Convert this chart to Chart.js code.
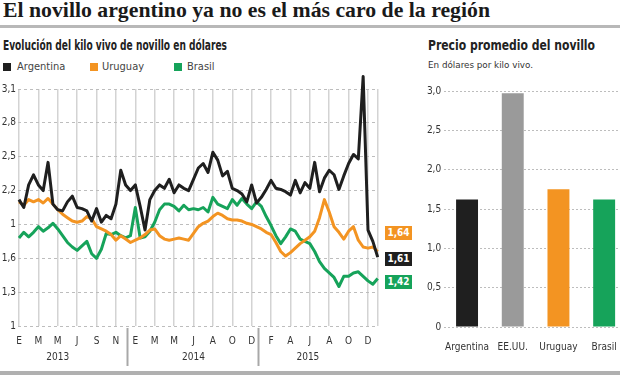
<!DOCTYPE html>
<html>
<head>
<meta charset="utf-8">
<script src="https://cdn.jsdelivr.net/npm/chart.js@4.4.0/dist/chart.umd.min.js"></script>
<style>
html,body{margin:0;padding:0;width:620px;height:375px;overflow:hidden;background:#fff;}
body{position:relative;font-family:"DejaVu Sans Condensed","Liberation Sans Narrow",Roboto,sans-serif;color:#222;}
.abs{position:absolute;white-space:nowrap;transform-origin:0 0;}
#title{left:3px;top:-1px;font:bold 22px/22px "Liberation Serif",serif;color:#1a1a1a;}
#rule{left:0;top:25px;width:620px;height:3px;background:#b8b8b8;}
#rule2{left:0;top:371px;width:620px;height:4px;background:#b0b0b0;}
#sub1{left:3px;top:37px;font-size:14px;line-height:16px;font-weight:bold;color:#222;}
#sub2{left:428px;top:37px;font-size:14px;line-height:16px;font-weight:bold;color:#222;}
#sub2b{left:428px;top:60px;font-size:9px;line-height:10px;color:#333;}
.lg{top:61px;font-size:11px;line-height:12px;color:#444;}
.sq{width:8px;height:8px;top:63px;}
.tag{width:27px;height:14px;font-size:10px;line-height:14px;font-weight:bold;color:#fff;text-align:center;left:385px;}
#cL{position:absolute;left:0;top:0;}
#cR{position:absolute;left:400px;top:0;}
</style>
</head>
<body>
<div class="abs" id="title">El novillo argentino ya no es el más caro de la región</div>
<div class="abs" id="rule"></div>
<div class="abs" id="sub1">Evolución del kilo vivo de novillo en dólares</div>
<div class="abs" id="sub2">Precio promedio del novillo</div>
<div class="abs" id="sub2b">En dólares por kilo vivo.</div>
<div id="legend"></div>
<div id="tags"></div>
<canvas id="cL" width="400" height="375"></canvas>
<canvas id="cR" width="240" height="375"></canvas>
<div class="abs" id="rule2"></div>
<script>
// ---------- data: line chart (one value every quarter of a label interval) ----------
const seriesNames = ['Argentina', 'Uruguay', 'Brasil'];
const seriesColors = ['#1f1f1f', '#f39422', '#16a35a'];
const monthLabels = ['E','M','M','J','S','N','E','M','M','J','A','O','D','F','A','J','A','O','D'];
const yearLabels = ['2013', '2014', '2015'];
const yTickValues = [1, 1.3, 1.6, 1.9, 2.2, 2.5, 2.8, 3.1];
const yTickLabels = ['1', '1,3', '1,6', '1', '2,2', '2,5', '2,8', '3,1'];
const lastValueLabels = ['1,64', '1,61', '1,42'];
const lastValueSeries = [1, 0, 2]; // Uruguay, Argentina, Brasil (top to bottom)

const argentina = [2.12,2.05,2.25,2.34,2.25,2.20,2.45,2.08,2.03,2.02,2.10,2.15,2.05,2.04,2.02,1.93,2.04,1.92,1.98,
  1.95,2.08,2.38,2.25,2.20,2.25,2.06,1.85,2.12,2.20,2.25,2.22,2.30,2.18,2.25,2.22,2.20,2.30,2.40,2.44,2.36,2.54,2.47,
  2.33,2.37,2.22,2.20,2.17,2.10,2.25,2.09,2.14,2.21,2.29,2.22,2.21,2.19,2.16,2.29,2.18,2.27,2.22,2.45,2.19,2.31,2.38,2.34,2.21,2.33,2.44,2.52,2.48,3.21,1.85,1.75,1.61];
const uruguay = [2.10,2.07,2.12,2.10,2.12,2.09,2.13,2.08,2.03,1.99,1.96,1.93,1.92,1.93,1.97,1.95,1.88,1.86,1.84,
  1.81,1.76,1.80,1.77,1.74,1.76,1.78,1.81,1.85,1.86,1.80,1.77,1.76,1.77,1.78,1.77,1.76,1.82,1.88,1.91,1.93,1.97,2.00,
  1.98,1.95,1.94,1.94,1.93,1.91,1.90,1.88,1.86,1.83,1.81,1.74,1.66,1.62,1.65,1.69,1.73,1.76,1.79,1.84,1.96,2.12,2.01,1.88,1.83,1.77,1.84,1.88,1.76,1.70,1.69,1.70,1.66];
const brasil = [1.78,1.83,1.79,1.83,1.88,1.84,1.87,1.91,1.86,1.80,1.74,1.70,1.67,1.71,1.75,1.64,1.60,1.68,1.82,
  1.81,1.83,1.80,1.78,1.80,2.05,1.78,1.79,1.84,1.92,2.03,2.08,2.08,2.06,2.02,2.07,2.03,2.04,2.03,2.05,2.01,2.14,2.08,
  2.06,2.04,2.12,2.07,2.13,2.08,2.04,2.10,2.06,1.97,1.89,1.80,1.73,1.79,1.86,1.84,1.77,1.75,1.73,1.66,1.57,1.51,1.47,1.43,1.35,1.44,1.44,1.47,1.48,1.44,1.40,1.37,1.42];

// ---------- data: bar chart ----------
const barCategories = ['Argentina', 'EE.UU.', 'Uruguay', 'Brasil'];
const barValues = [1.62, 2.97, 1.75, 1.62];
const barColors = ['#1f1f1f', '#9a9a9a', '#f39422', '#16a35a'];
const barTickValues = [0, 0.5, 1, 1.5, 2, 2.5, 3];
const barTickLabels = ['0', '0,5', '1,0', '1,5', '2,0', '2,5', '3,0'];

// ---------- layout constants ----------
const STEP = 0.25;                // data spacing, in label intervals
const yearCenters = [2.0, 9.0, 14.9];
const yearSeparators = [5.57, 12.33];
const FONT = '"DejaVu Sans Condensed","Liberation Sans Narrow",Roboto,sans-serif';

Chart.defaults.font.family = FONT;
Chart.defaults.color = '#333';

// fit condensed headings to their widths in the reference
function fitWidth(id, target) {
  const el = document.getElementById(id);
  const w = el.getBoundingClientRect().width;
  el.style.transform = 'scaleX(' + (target / w) + ')';
}
fitWidth('title', 487);
fitWidth('sub1', 224);
fitWidth('sub2', 167);
fitWidth('sub2b', 105);

// legend + tags (HTML)
const legendPos = [[3, 17], [90, 102], [174, 187]];
const lg = document.getElementById('legend');
seriesNames.forEach((n, i) => {
  const s = document.createElement('div'); s.className = 'abs sq';
  s.style.left = legendPos[i][0] + 'px'; s.style.background = seriesColors[i]; lg.appendChild(s);
  const t = document.createElement('div'); t.className = 'abs lg';
  t.style.left = legendPos[i][1] + 'px'; t.textContent = n; lg.appendChild(t);
});
const tagTops = [226, 252, 275];
const tg = document.getElementById('tags');
lastValueLabels.forEach((v, i) => {
  const d = document.createElement('div'); d.className = 'abs tag';
  d.style.top = tagTops[i] + 'px'; d.style.background = seriesColors[lastValueSeries[i]]; d.textContent = v; tg.appendChild(d);
});

const toPoints = arr => arr.map((v, i) => ({ x: i * STEP, y: v }));

const yearPlugin = {
  id: 'years',
  afterDraw(chart) {
    const ctx = chart.ctx, xs = chart.scales.x, ca = chart.chartArea;
    ctx.save();
    ctx.strokeStyle = '#a8a8a8'; ctx.lineWidth = 2;
    yearSeparators.forEach(g => {
      const px = Math.round(xs.getPixelForValue(g)) + 0.5;
      ctx.beginPath(); ctx.moveTo(px, ca.bottom + 2); ctx.lineTo(px, 366); ctx.stroke();
    });
    ctx.fillStyle = '#333'; ctx.font = '10px ' + FONT; ctx.textAlign = 'center'; ctx.textBaseline = 'middle';
    yearLabels.forEach((y, i) => ctx.fillText(y, xs.getPixelForValue(yearCenters[i]), 357));
    ctx.restore();
  }
};

new Chart(document.getElementById('cL'), {
  type: 'line',
  data: {
    datasets: [
      { label: seriesNames[0], data: toPoints(argentina), borderColor: seriesColors[0] },
      { label: seriesNames[1], data: toPoints(uruguay), borderColor: seriesColors[1] },
      { label: seriesNames[2], data: toPoints(brasil), borderColor: seriesColors[2] }
    ].map(d => Object.assign(d, { borderWidth: 3, pointRadius: 0, tension: 0, clip: false, fill: false, borderJoinStyle: 'round' }))
  },
  options: {
    responsive: false, animation: false, devicePixelRatio: 1,
    layout: { padding: { left: 0, right: 22.3, top: 89, bottom: 0 } },
    plugins: { legend: { display: false }, tooltip: { enabled: false } },
    scales: {
      x: {
        type: 'linear', min: -0.05, max: 18.5,
        afterBuildTicks: s => { s.ticks = monthLabels.map((_, i) => ({ value: i })).concat([{ value: 18.5 }]); },
        afterFit: s => { s.height = 49; },
        ticks: { autoSkip: false, maxRotation: 0, padding: 9, font: { size: 10 }, color: '#333',
                 callback: (v, i) => monthLabels[i] !== undefined ? monthLabels[i] : '' },
        grid: { color: '#d3d3d3', lineWidth: 1.5, drawTicks: false },
        border: { display: false }
      },
      y: {
        min: 1, max: 3.1,
        afterBuildTicks: s => { s.ticks = yTickValues.map(v => ({ value: v })); },
        afterFit: s => { s.width = 18; },
        ticks: { padding: 2, font: { size: 10 }, color: '#333', callback: (v, i) => yTickLabels[i] },
        grid: { color: '#bdbdbd', lineWidth: 1, drawTicks: false },
        border: { display: false, dash: [3, 3] }
      }
    }
  },
  plugins: [yearPlugin]
});

new Chart(document.getElementById('cR'), {
  type: 'bar',
  data: {
    labels: barCategories,
    datasets: [{ data: barValues, backgroundColor: barColors, barPercentage: 0.48, categoryPercentage: 1 }]
  },
  options: {
    responsive: false, animation: false, devicePixelRatio: 1,
    layout: { padding: { left: 0, right: 13, top: 91, bottom: 0 } },
    plugins: { legend: { display: false }, tooltip: { enabled: false } },
    scales: {
      x: {
        afterFit: s => { s.height = 48; },
        ticks: { padding: 6, font: { size: 10 }, color: '#333', autoSkip: false, maxRotation: 0, minRotation: 0 },
        grid: { display: false },
        border: { display: false }
      },
      y: {
        min: 0, max: 3,
        afterBuildTicks: s => { s.ticks = barTickValues.map(v => ({ value: v })); },
        afterFit: s => { s.width = 44.2; },
        ticks: { padding: 3, font: { size: 10 }, color: '#333', callback: (v, i) => barTickLabels[i] },
        grid: { color: '#bdbdbd', lineWidth: 1, drawTicks: false },
        border: { display: false, dash: [2, 2] }
      }
    }
  }
});
</script>
</body>
</html>
